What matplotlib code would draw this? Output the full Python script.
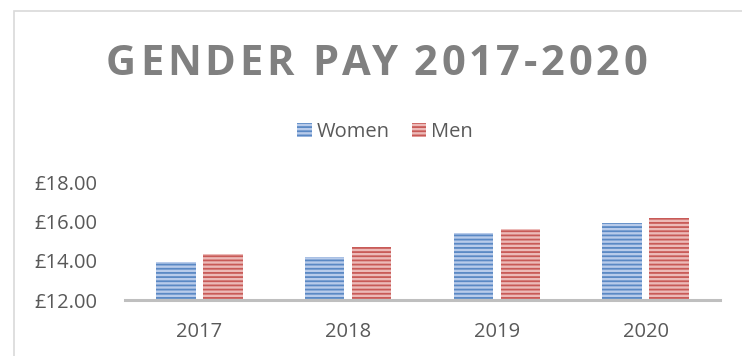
import matplotlib
matplotlib.use('Agg')
import matplotlib.pyplot as plt
from matplotlib.patches import Rectangle
from matplotlib.ticker import FuncFormatter
import numpy as np

years = ['2017', '2018', '2019', '2020']
women = [13.95, 14.20, 15.43, 15.95]
men = [14.36, 14.71, 15.64, 16.20]
yticks = [12, 14, 16, 18]
title = 'GENDER PAY 2017-2020'

plt.rcParams['font.family'] = ['Open Sans', 'DejaVu Sans']
plt.rcParams['hatch.linewidth'] = 1.3

W, H = 742, 356
fig = plt.figure(figsize=(W / 100, H / 100), dpi=100)
ax = fig.add_axes([125 / W, 1 - 300 / H, (720 - 125) / W, (300 - 183) / H])

x = np.arange(len(years))
bw = 0.265
ax.bar(x - 0.158, women, bw, color='#b8cbea', edgecolor='#5a88c4',
       linewidth=0, hatch='----', label='Women')
ax.bar(x + 0.158, men, bw, color='#ecbab8', edgecolor='#c85a57',
       linewidth=0, hatch='----', label='Men')

ax.set_ylim(12, 18)
ax.set_xlim(-0.5, len(years) - 0.5)
ax.set_yticks(yticks)
ax.yaxis.set_major_formatter(FuncFormatter(lambda v, p: '£{:.2f}'.format(v)))
ax.set_xticks(x)
ax.set_xticklabels(years)
ax.tick_params(axis='both', length=0, labelsize=14.5, colors='#595959')
ax.tick_params(axis='y', pad=20)
ax.tick_params(axis='x', pad=16)
for s in ['top', 'right', 'left']:
    ax.spines[s].set_visible(False)
ax.spines['bottom'].set_color('#bfbfbf')
ax.spines['bottom'].set_linewidth(2.2)

ax.legend(loc='center', bbox_to_anchor=(385 / W, 1 - 132 / H),
          bbox_transform=fig.transFigure, ncol=2, frameon=False,
          fontsize=14.5, labelcolor='#595959', handlelength=0.7,
          handleheight=0.75, handletextpad=0.25, columnspacing=1.1)

# title with letter spacing, placed glyph by glyph
renderer = fig.canvas.get_renderer()
tsize = 30

def text_width(s):
    t = fig.text(0, 0, s + '|', fontsize=tsize, weight='bold')
    w = t.get_window_extent(renderer).width
    t.remove()
    return w - bar_w

t0 = fig.text(0, 0, '|', fontsize=tsize, weight='bold')
bar_w = t0.get_window_extent(renderer).width
t0.remove()

target = 541
full = text_width(title)
track = (target - full) / (len(title) - 1)
x0 = 376.5 - target / 2
for i, ch in enumerate(title):
    if ch == ' ':
        continue
    px = x0 + text_width(title[:i]) + i * track
    fig.text(px / W, 1 - 75 / H, ch, fontsize=tsize, weight='bold',
             color='#808080', ha='left', va='baseline')

fig.add_artist(Rectangle((13.5 / W, -0.1), 1.2, (H - 10.5) / H + 0.1,
                         transform=fig.transFigure, fill=False,
                         edgecolor='#d9d9d9', linewidth=1.2))

fig.savefig('out.png', dpi=100)
